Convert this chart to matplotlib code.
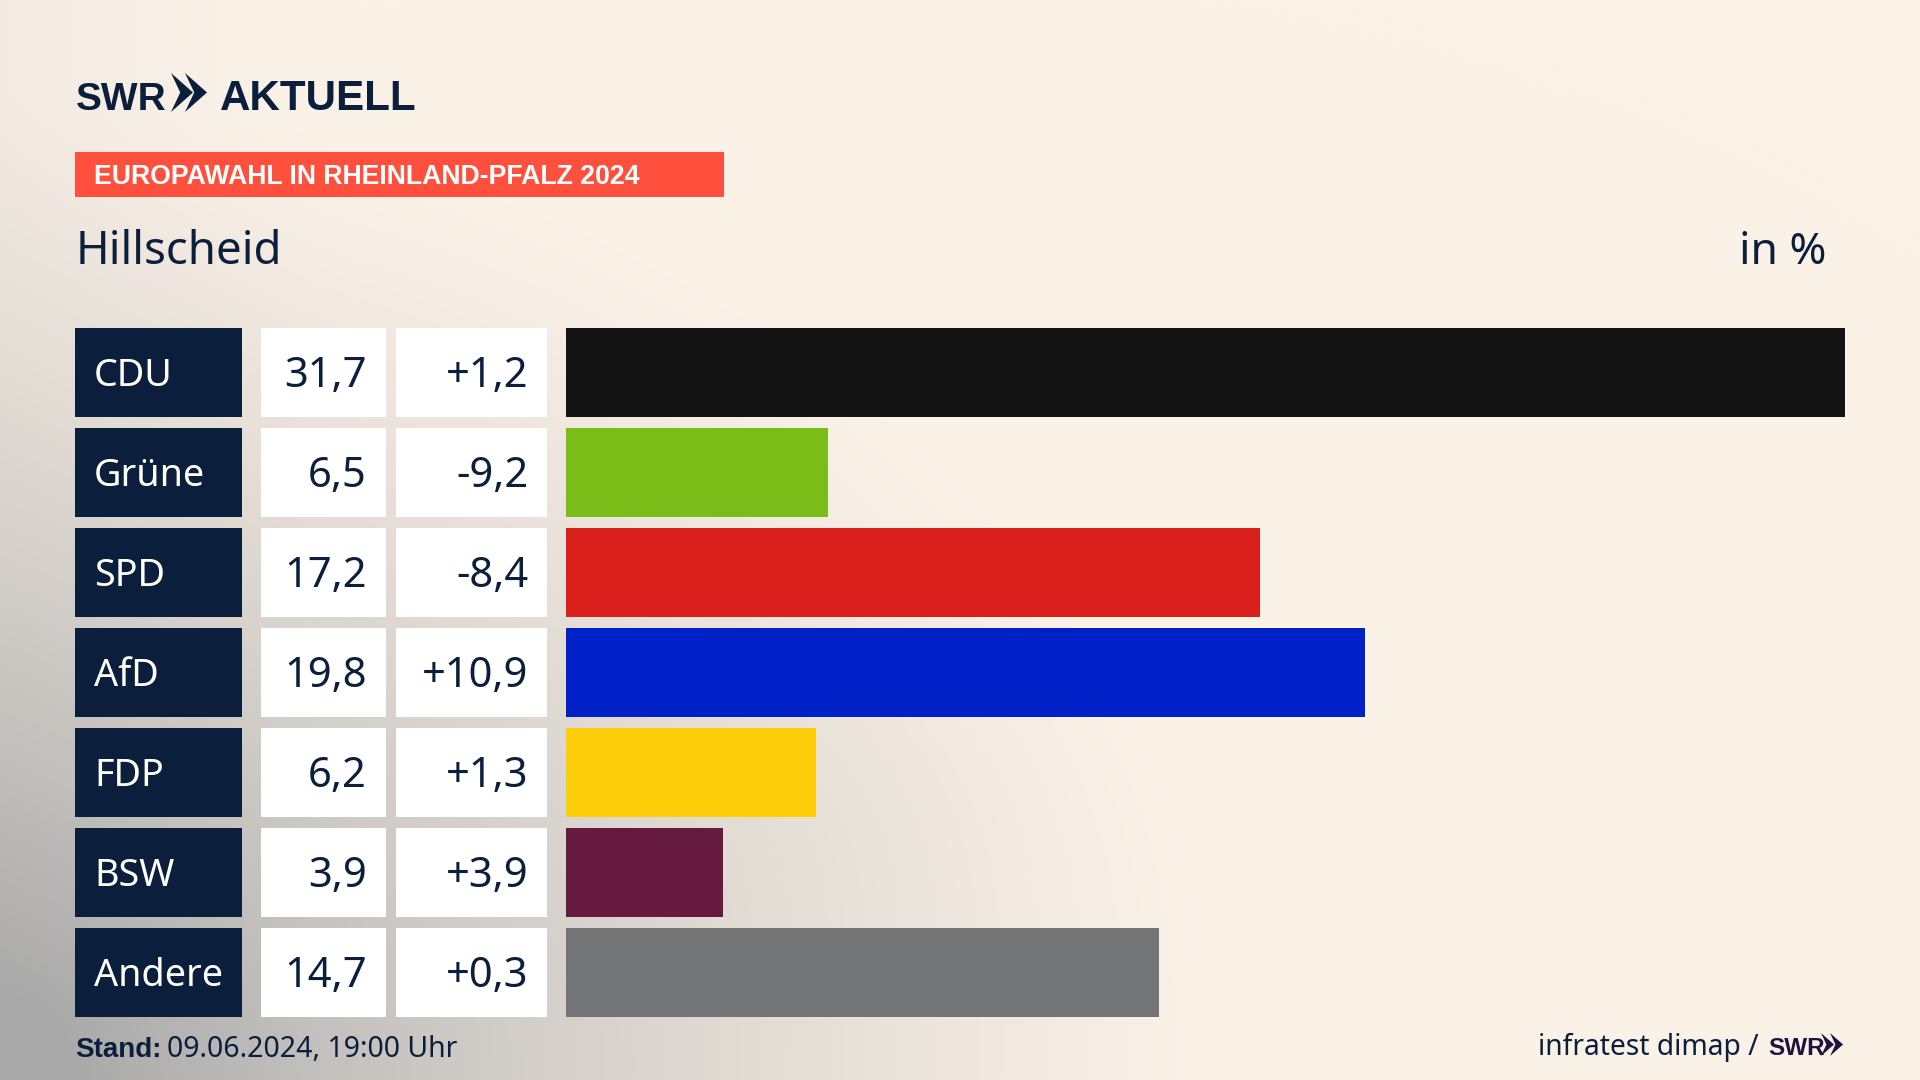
import numpy as np
import matplotlib
matplotlib.use("Agg")
import matplotlib.pyplot as plt
from matplotlib.colors import to_rgb
from matplotlib.patches import Rectangle, Polygon

parties = ["CDU", "Grüne", "SPD", "AfD", "FDP", "BSW", "Andere"]
shares = [31.7, 6.5, 17.2, 19.8, 6.2, 3.9, 14.7]
share_labels = ["31,7", "6,5", "17,2", "19,8", "6,2", "3,9", "14,7"]
change_labels = ["+1,2", "-9,2", "-8,4", "+10,9", "+1,3", "+3,9", "+0,3"]
colors = ["#141414", "#7ABD19", "#D81F1C", "#0021C8", "#FFCE0A", "#661A3D", "#727475"]

NAVY = "#0B1F3D"
FONT = "Noto Sans"
BOLD = "Liberation Sans"
W, H = 1920, 1080

fig = plt.figure(figsize=(19.2, 10.8), dpi=100)
ax = fig.add_axes([0, 0, 1, 1])
ax.set_xlim(0, W); ax.set_ylim(H, 0); ax.axis("off")

# background gradient
yy, xx = np.mgrid[0:H:270j, 0:W:480j]
d1 = np.clip(1 - np.hypot(xx / 1250, (H - yy) / 1000), 0, 1) ** 1.3
d2 = np.clip(1 - xx / 350, 0, 1) ** 1.5 * 0.10
d3 = 0.03 * np.exp(-(((xx - 800) / 260) ** 2 + ((yy - 820) / 150) ** 2))
d = np.clip(d1 + d2 + d3, 0, 1)[..., None]
cream = np.array(to_rgb("#FBF2E8")); grey = np.array(to_rgb("#A9A9A9"))
ax.imshow(cream * (1 - d) + grey * d, extent=(0, W, H, 0), aspect="auto", zorder=0, interpolation="bilinear")
ax.set_xlim(0, W); ax.set_ylim(H, 0)

def chevrons(x, y0, y1, w, gap, color):
    mid = (y0 + y1) / 2
    for i in range(2):
        xo = x + i * gap
        ax.add_patch(Polygon([(xo, y0), (xo + w, mid), (xo, y1), (xo + w * 0.42, mid)],
                             closed=True, fc=color, ec="none", zorder=3))

# logo
ax.text(76, 109.5, "SWR", family=BOLD, weight="bold", fontsize=28, color=NAVY, va="baseline", zorder=3)
chevrons(171, 73, 112, 22, 14, NAVY)
ax.text(220, 109.5, "AKTUELL", family=BOLD, weight="bold", fontsize=30.3, color=NAVY, va="baseline", zorder=3)

# banner
ax.add_patch(Rectangle((75, 152), 649, 45, fc="#FF503D", ec="none", zorder=2))
ax.text(94, 184, "EUROPAWAHL IN RHEINLAND-PFALZ 2024", family=BOLD, weight="bold", fontsize=19.2, color="white", va="baseline", zorder=3)

ax.text(76, 263.5, "Hillscheid", family=FONT, fontsize=32.8, color=NAVY, va="baseline", zorder=3)
ax.text(1826, 263.5, "in %", family=FONT, fontsize=32, color=NAVY, va="baseline", ha="right", zorder=3)

# rows
tops = [328 + 100 * i for i in range(len(parties))]
RH = 88.5
for top, p, s, c in zip(tops, parties, share_labels, change_labels):
    ax.add_patch(Rectangle((75, top), 167, RH, fc=NAVY, ec="none", zorder=2))
    ax.add_patch(Rectangle((261, top), 125, RH, fc="white", ec="none", zorder=2))
    ax.add_patch(Rectangle((396, top), 151, RH, fc="white", ec="none", zorder=2))
    ax.text(94, top + 58, p, family=FONT, fontsize=27.2, color="white", va="baseline", zorder=3)
    ax.text(367, top + 59, s, family=FONT, fontsize=30, color=NAVY, va="baseline", ha="right", zorder=3)
    ax.text(528.5, top + 59, c, family=FONT, fontsize=30, color=NAVY, va="baseline", ha="right", zorder=3)

# bars
bx = fig.add_axes([566 / W, 0, (1845 - 566) / W, 1])
bx.patch.set_alpha(0); bx.axis("off")
bx.set_xlim(0, 31.7); bx.set_ylim(H, 0)
bx.barh([t + RH / 2 for t in tops], shares, height=RH, color=colors, linewidth=0)

# footer
ax.text(75, 1057, "Stand:", family=BOLD, weight="bold", fontsize=20, color=NAVY, va="baseline", zorder=3)
ax.text(167, 1057, "09.06.2024, 19:00 Uhr", family=FONT, fontsize=20.5, color=NAVY, va="baseline", zorder=3)
ax.text(1759, 1055, "infratest dimap /", family=FONT, fontsize=20.3, color=NAVY, va="baseline", ha="right", zorder=3)
ax.text(1768, 1055, "SWR", family=BOLD, weight="bold", fontsize=17.5, color="#20113F", va="baseline", zorder=3)
chevrons(1821, 1033, 1056, 13, 9, "#20113F")

fig.savefig("out.png", dpi=100)
